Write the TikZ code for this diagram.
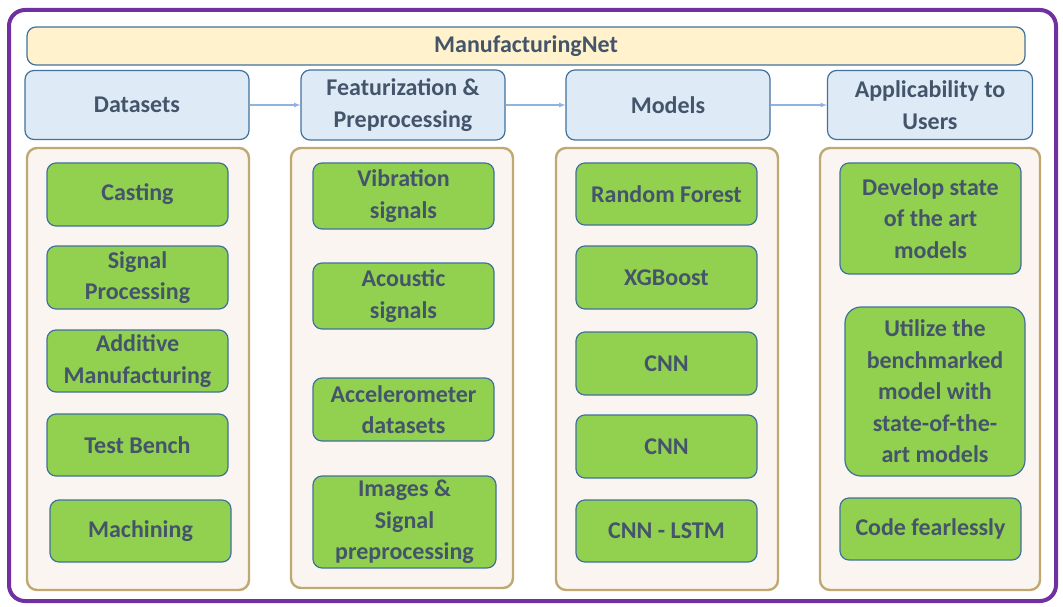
\documentclass[tikz,border=0pt]{standalone}
\usepackage{fontspec}
\setmainfont{Carlito}
\usepackage{tikz}
\usetikzlibrary{positioning}
\usepackage{xcolor}
\definecolor{frame}{HTML}{7030A0}
\definecolor{edge}{HTML}{41719C}
\definecolor{ink}{HTML}{44546A}
\definecolor{headfill}{HTML}{FFF2CC}
\definecolor{stagefill}{HTML}{DEEBF7}
\definecolor{panelfill}{HTML}{FBF5F1}
\definecolor{paneledge}{HTML}{C0A971}
\definecolor{leaf}{HTML}{92D050}
\definecolor{flow}{HTML}{8DB4E2}
\begin{document}
\begin{tikzpicture}[x=1pt,y=-1pt,
  box/.style={draw=edge,line width=1.2pt,rounded corners=9pt,align=center,
    inner sep=0pt,text=ink,font=\bfseries\fontsize{24}{31.5}\selectfont},
  stage/.style={box,fill=stagefill},
  leafbox/.style={box,fill=leaf},
  panel/.style={draw=paneledge,line width=2.4pt,fill=panelfill,rounded corners=10pt}]
\useasboundingbox (0,0) rectangle (1063,607);
\draw[frame,line width=4pt,rounded corners=16pt] (9,10) rectangle (1056,601);
% title bar
\node[box,fill=headfill,minimum width=998pt,minimum height=38pt,
  font=\bfseries\fontsize{24}{28}\selectfont] (title) at (526,46) {ManufacturingNet};
% the four stages
\node[stage,minimum width=224pt,minimum height=69pt] (data) at (137,105) {Datasets};
\node[stage,minimum width=204pt,minimum height=70pt] (feat) at (403,105) {Featurization \&\\Preprocessing};
\node[stage,minimum width=204pt,minimum height=70pt] (model) at (668,105) {Models};
\node[stage,minimum width=205pt,minimum height=69pt] (user) at (930,105) {Applicability to\\Users};
\draw[->,>=latex,flow,line width=1.2pt] (data) -- (feat);
\draw[->,>=latex,flow,line width=1.2pt] (feat) -- (model);
\draw[->,>=latex,flow,line width=1.2pt] (model) -- (user);
% panels
\draw[panel] (27,148) rectangle (249,590);
\draw[panel] (291,148) rectangle (513,588);
\draw[panel] (556,148) rectangle (778,590);
\draw[panel] (820,148) rectangle (1040,590);
% datasets
\node[leafbox,minimum width=181pt,minimum height=63pt] (cast) at (137.5,194.5) {Casting};
\node[leafbox,minimum width=181pt,minimum height=63pt] (sig) at (137.5,277.5) {Signal\\Processing};
\node[leafbox,minimum width=181pt,minimum height=62pt] (add) at (137.5,361) {Additive\\Manufacturing};
\node[leafbox,minimum width=181pt,minimum height=62pt] (bench) at (137.5,445) {Test Bench};
\node[leafbox,minimum width=181pt,minimum height=62pt] (mach) at (140.5,531) {Machining};
% featurization
\node[leafbox,minimum width=181pt,minimum height=66pt] (vib) at (403.5,196) {Vibration\\signals};
\node[leafbox,minimum width=181pt,minimum height=66pt] (acou) at (403.5,296) {Acoustic\\signals};
\node[leafbox,minimum width=181pt,minimum height=63pt] (accel) at (403.5,409.5) {Accelerometer\\datasets};
\node[leafbox,minimum width=183pt,minimum height=92pt] (img) at (404.5,522) {Images \&\\Signal\\preprocessing};
% models
\node[leafbox,minimum width=181pt,minimum height=62pt] (rf) at (666.5,194) {Random Forest};
\node[leafbox,minimum width=181pt,minimum height=63pt] (xgb) at (666.5,277.5) {XGBoost};
\node[leafbox,minimum width=181pt,minimum height=63pt] (cnna) at (666.5,363.5) {CNN};
\node[leafbox,minimum width=181pt,minimum height=63pt] (cnnb) at (666.5,446.5) {CNN};
\node[leafbox,minimum width=181pt,minimum height=62pt] (lstm) at (666.5,531) {CNN - LSTM};
% users
\node[leafbox,minimum width=181pt,minimum height=111pt] (dev) at (930.5,218.5) {Develop state\\of the art\\models};
\node[leafbox,minimum width=180pt,minimum height=169pt,rounded corners=16pt] (util) at (935,391.5) {Utilize the\\benchmarked\\model with\\state-of-the-\\art models};
\node[leafbox,minimum width=181pt,minimum height=62pt] (code) at (930.5,529) {Code fearlessly};
\end{tikzpicture}
\end{document}
